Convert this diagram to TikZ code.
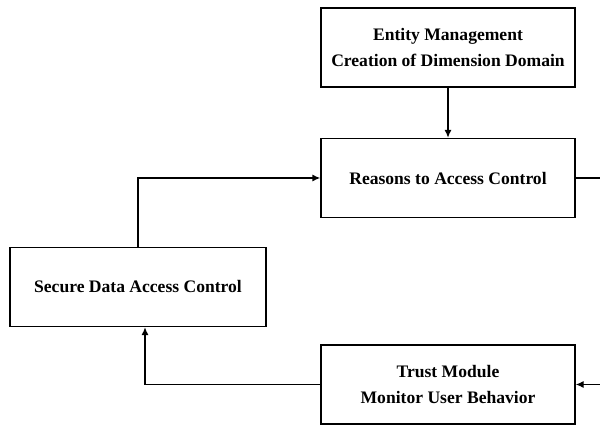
\documentclass[tikz,border=0pt]{standalone}
\usepackage{fontspec}
\setmainfont{Liberation Serif}
\usetikzlibrary{arrows.meta}
\tikzset{
    blockbox/.style={draw, line width=1pt, minimum width=6.35cm, minimum height=1.975cm,
        inner sep=0pt, align=center, font=\fontsize{12.5}{18.5}\selectfont\bfseries},
    arr/.style={line width=1pt, -{Latex[length=2mm, width=1.8mm]}},
}
\begin{document}
\begin{tikzpicture}
    \useasboundingbox (0, 0) rectangle (15, 10.625);
    \node[blockbox] (entity) at (11.2, 9.4375) {Entity Management\\Creation of Dimension Domain};
    \node[blockbox] (reasons) at (11.2, 6.175) {Reasons to Access Control};
    \node[blockbox, minimum width=6.4cm] (secure) at (3.45, 3.45) {Secure Data Access Control};
    \node[blockbox] (trust) at (11.2, 1.0125) {Trust Module\\Monitor User Behavior};
    \coordinate (outR) at (15, 6.175);
    \coordinate (inR) at (15, 1.0125);
    \draw[arr] (entity) -- (reasons);
    \draw[arr] (secure.north) |- (reasons.west);
    \draw[arr] (trust.west) -| ([xshift=0.175cm]secure.south);
    \draw[line width=1pt] (reasons.east) -- (outR);
    \draw[arr] (inR) -- (trust.east);
\end{tikzpicture}
\end{document}
